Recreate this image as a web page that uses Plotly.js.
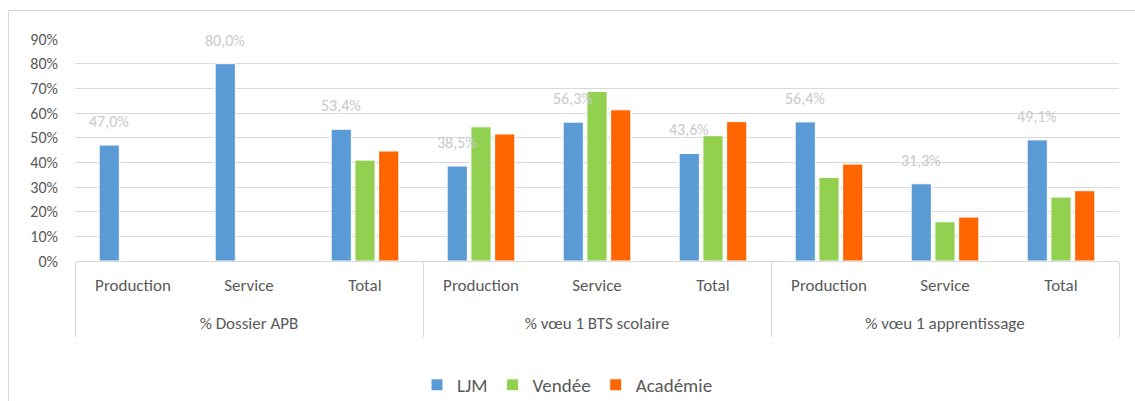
<!DOCTYPE html>
<html>
<head>
<meta charset="utf-8">
<script src="https://cdn.plot.ly/plotly-3.0.1.min.js"></script>
<style>
  html, body { margin: 0; padding: 0; background: #fff; }
  #frame { position: absolute; left: 8px; top: 10px; width: 1140px; height: 400px; border: 1px solid #d9d9d9; box-sizing: border-box; }
  #chart { position: absolute; left: 0; top: 0; width: 1135px; height: 401px; }
</style>
</head>
<body>
<div id="frame"></div>
<div id="chart"></div>
<script>
var groups = ["% Dossier APB", "% vœu 1 BTS scolaire", "% vœu 1 apprentissage"];
var categories = ["Production", "Service", "Total",
                  "Production", "Service", "Total",
                  "Production", "Service", "Total"];
var ljm     = [0.470, 0.800, 0.534, 0.385, 0.563, 0.436, 0.564, 0.313, 0.491];
var vendee  = [null,  null,  0.409, 0.544, 0.687, 0.508, 0.339, 0.159, 0.259];
var academie= [null,  null,  0.446, 0.515, 0.613, 0.565, 0.393, 0.178, 0.285];
var yTicks = [0, 0.1, 0.2, 0.3, 0.4, 0.5, 0.6, 0.7, 0.8, 0.9];

var fontFam = "Carlito, Lato, 'Open Sans', sans-serif";
var perGroup = categories.length / groups.length;
var xPos = categories.map(function (c, i) { return i; });
var groupCenters = groups.map(function (g, k) { return k * perGroup + (perGroup - 1) / 2; });
var groupEdges = [];
for (var k = 0; k <= groups.length; k++) groupEdges.push(k * perGroup - 0.5);
var xRange = [-0.5, categories.length - 0.5];

var traces = [
  {type: 'bar', name: 'LJM', x: xPos, y: ljm, marker: {color: '#5b9bd5', line: {color: '#ffffff', width: 1}}, hoverinfo: 'none'},
  {type: 'bar', name: 'Vendée', x: xPos, y: vendee, marker: {color: '#92d050', line: {color: '#ffffff', width: 1}}, hoverinfo: 'none'},
  {type: 'bar', name: 'Académie', x: xPos, y: academie, marker: {color: '#ff6600', line: {color: '#ffffff', width: 1}}, hoverinfo: 'none'},
  {type: 'scatter', x: groupCenters, y: groupCenters.map(function () { return null; }), xaxis: 'x2', showlegend: false, hoverinfo: 'none'}
];

var plotW = 1135 - 75 - 16;
var slot = (plotW / categories.length) * (1 - 0.386) / 3;

var annotations = ljm.map(function (v, i) {
  return {
    x: xPos[i], y: v, xref: 'x', yref: 'y',
    text: (v * 100).toFixed(1).replace('.', ',') + '%',
    showarrow: false, yanchor: 'bottom', xshift: -slot, yshift: 12,
    font: {family: fontFam, size: 16, color: '#c9c9c9'}
  };
});

var layout = {
  width: 1135, height: 401,
  margin: {l: 75, r: 16, t: 39, b: 140},
  paper_bgcolor: 'rgba(0,0,0,0)',
  plot_bgcolor: 'rgba(0,0,0,0)',
  barmode: 'group',
  bargap: 0.386,
  bargroupgap: 0.15,
  showlegend: true,
  legend: {orientation: 'h', x: 0.5, xanchor: 'center', xref: 'container',
           y: 0.04, yanchor: 'middle', yref: 'container',
           font: {family: fontFam, size: 19, color: '#595959'}, itemwidth: 30, traceorder: 'normal'},
  font: {family: fontFam, color: '#595959'},
  xaxis: {
    range: xRange, automargin: false,
    tickvals: xPos, ticktext: categories,
    showline: true, linecolor: '#d9d9d9', linewidth: 1,
    ticks: '', ticklabelstandoff: 9,
    minor: {tickvals: groupEdges, ticks: 'outside', ticklen: 75, tickcolor: '#d9d9d9', tickwidth: 1, showgrid: false},
    tickfont: {family: fontFam, size: 17, color: '#595959'},
    showgrid: false, zeroline: false
  },
  xaxis2: {
    range: xRange, overlaying: 'x', anchor: 'y', side: 'bottom', automargin: false,
    tickvals: groupCenters, ticktext: groups,
    showline: false, ticks: '', showgrid: false, zeroline: false,
    ticklabelstandoff: 50,
    tickfont: {family: fontFam, size: 17, color: '#595959'}
  },
  yaxis: {
    range: [0, 0.9], tickvals: yTicks, tickformat: '.0%', automargin: false,
    showgrid: true, gridcolor: '#d9d9d9', gridwidth: 1,
    zeroline: false, showline: false, ticks: '',
    ticklabelstandoff: 16,
    tickfont: {family: fontFam, size: 16, color: '#595959'}
  },
  annotations: annotations
};

Plotly.newPlot('chart', traces, layout, {displayModeBar: false, staticPlot: true});
</script>
</body>
</html>
